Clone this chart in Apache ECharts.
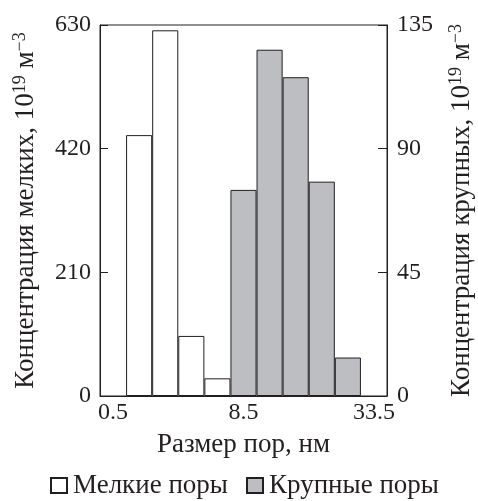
<!DOCTYPE html>
<html>
<head>
<meta charset="utf-8">
<script src="https://cdn.jsdelivr.net/npm/echarts@6/dist/echarts.min.js"></script>
<style>html,body{margin:0;padding:0;background:#fff}#c{width:478px;height:501px}</style>
</head>
<body>
<div id="c"></div>
<script>
var categories = ['0.5', '', '', '', '', '8.5', '', '', '', '', '33.5'];
var smallPores = [null, 443, 621, 102, 30, null, null, null, null, null, null];
var largePores = [null, null, null, null, null, 75, 126, 116, 78, 14, null];
var leftTicks = { min: 0, max: 630, interval: 210 };
var rightTicks = { min: 0, max: 135, interval: 45 };

var ink = '#231f20';
var font = 'Liberation Serif';
var sup = { fontSize: 18, fontFamily: font, color: ink, verticalAlign: 'bottom', padding: [0, 0, 11, 0] };

var chart = echarts.init(document.getElementById('c'));
chart.setOption({
  animation: false,
  textStyle: { fontFamily: font, color: ink },
  grid: { left: 100, right: 91, top: 25, bottom: 105, outerBoundsMode: 'none', containLabel: false,
    show: true, borderColor: ink, borderWidth: 1, backgroundColor: 'transparent' },
  legend: {
    top: 467, left: 45, icon: 'rect', itemWidth: 16, itemHeight: 15, itemGap: 18,
    textStyle: { fontSize: 27, fontFamily: font, color: ink, padding: [0, 0, 0, 1] },
    data: ['Мелкие поры', 'Крупные поры']
  },
  xAxis: {
    type: 'category', data: categories, boundaryGap: true,
    axisLine: { lineStyle: { color: ink, width: 1 } },
    axisTick: { show: false },
    axisLabel: { interval: 4, fontSize: 24, fontFamily: font, color: ink, margin: 5 },
    name: 'Размер пор, нм', nameLocation: 'middle', nameGap: 35,
    nameTextStyle: { fontSize: 27, fontFamily: font, color: ink }
  },
  yAxis: [{
    type: 'value', position: 'left', min: leftTicks.min, max: leftTicks.max, interval: leftTicks.interval,
    axisLine: { show: true, lineStyle: { color: ink } },
    axisTick: { show: true, inside: true, length: 8, lineStyle: { color: ink } },
    splitLine: { show: false },
    axisLabel: { fontSize: 24, fontFamily: font, color: ink, margin: 9 },
    name: 'Концентрация мелких, 10{sup|19} м{sup|−3}', nameLocation: 'middle', nameGap: 60, nameRotate: 90,
    nameTextStyle: { fontSize: 27, fontFamily: font, color: ink, rich: { sup: sup } }
  }, {
    type: 'value', position: 'right', min: rightTicks.min, max: rightTicks.max, interval: rightTicks.interval,
    axisLine: { show: true, lineStyle: { color: ink } },
    axisTick: { show: true, inside: true, length: 9, lineStyle: { color: ink } },
    splitLine: { show: false },
    axisLabel: { fontSize: 24, fontFamily: font, color: ink, margin: 10 },
    name: 'Концентрация крупных, 10{sup|19} м{sup|−3}', nameLocation: 'middle', nameGap: 60, nameRotate: 90,
    nameTextStyle: { fontSize: 27, fontFamily: font, color: ink, rich: { sup: sup } }
  }],
  series: [{
    name: 'Мелкие поры', type: 'bar', yAxisIndex: 0, data: smallPores,
    barWidth: '100%', barGap: '-100%',
    itemStyle: { color: '#ffffff', borderColor: ink, borderWidth: 1 }
  }, {
    name: 'Крупные поры', type: 'bar', yAxisIndex: 1, data: largePores,
    barWidth: '100%', barGap: '-100%',
    itemStyle: { color: '#bdbec2', borderColor: ink, borderWidth: 1 }
  }]
});
</script>
</body>
</html>
